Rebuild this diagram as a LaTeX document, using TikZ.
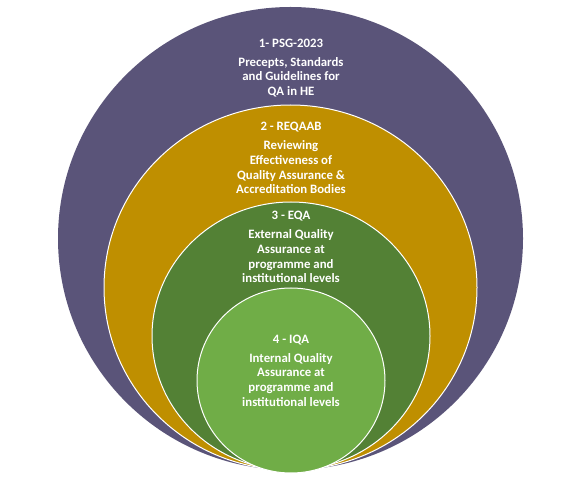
\documentclass[tikz,border=0pt]{standalone}
\usepackage{fontspec}
\setmainfont{Carlito}
\usetikzlibrary{shapes.geometric}
\definecolor{cpurple}{HTML}{5A5479}
\definecolor{cgold}{HTML}{BF8F00}
\definecolor{cdgreen}{HTML}{538135}
\definecolor{clgreen}{HTML}{70AD47}
\tikzset{
  ring/.style={ellipse, inner sep=0pt, draw=white, line width=1pt},
  lbl/.style={text=white, font=\bfseries\fontsize{12.8}{14.7}\selectfont, align=center, inner sep=0pt}
}
\begin{document}
\begin{tikzpicture}[x=1pt,y=1pt]
\useasboundingbox[fill=white] (0,0) rectangle (586,485);
\node[ring, fill=cpurple, draw=none, minimum width=465pt, minimum height=463pt] (c1) at (290.5,246.5) {};
\node[ring, fill=cgold, minimum width=373pt, minimum height=365pt] (c2) at (290.5,197.5) {};
\node[ring, fill=cdgreen, minimum width=278pt, minimum height=268pt] (c3) at (291,149) {};
\node[ring, fill=clgreen, minimum width=188pt, minimum height=185pt] (c4) at (291,104.5) {};
\node[lbl] (t1) at (291,417) {1- PSG-2023\\[4.5pt]Precepts, Standards\\and Guidelines for\\QA in HE};
\node[lbl] (t2) at (291,327) {2 - REQAAB\\[4.5pt]Reviewing\\Effectiveness of\\Quality Assurance \&\\Accreditation Bodies};
\node[lbl] (t3) at (291,238) {3 - EQA\\[4.5pt]External Quality\\Assurance at\\programme and\\institutional levels};
\node[lbl] (t4) at (291,114.5) {4 - IQA\\[4.5pt]Internal Quality\\Assurance at\\programme and\\institutional levels};
\end{tikzpicture}
\end{document}
